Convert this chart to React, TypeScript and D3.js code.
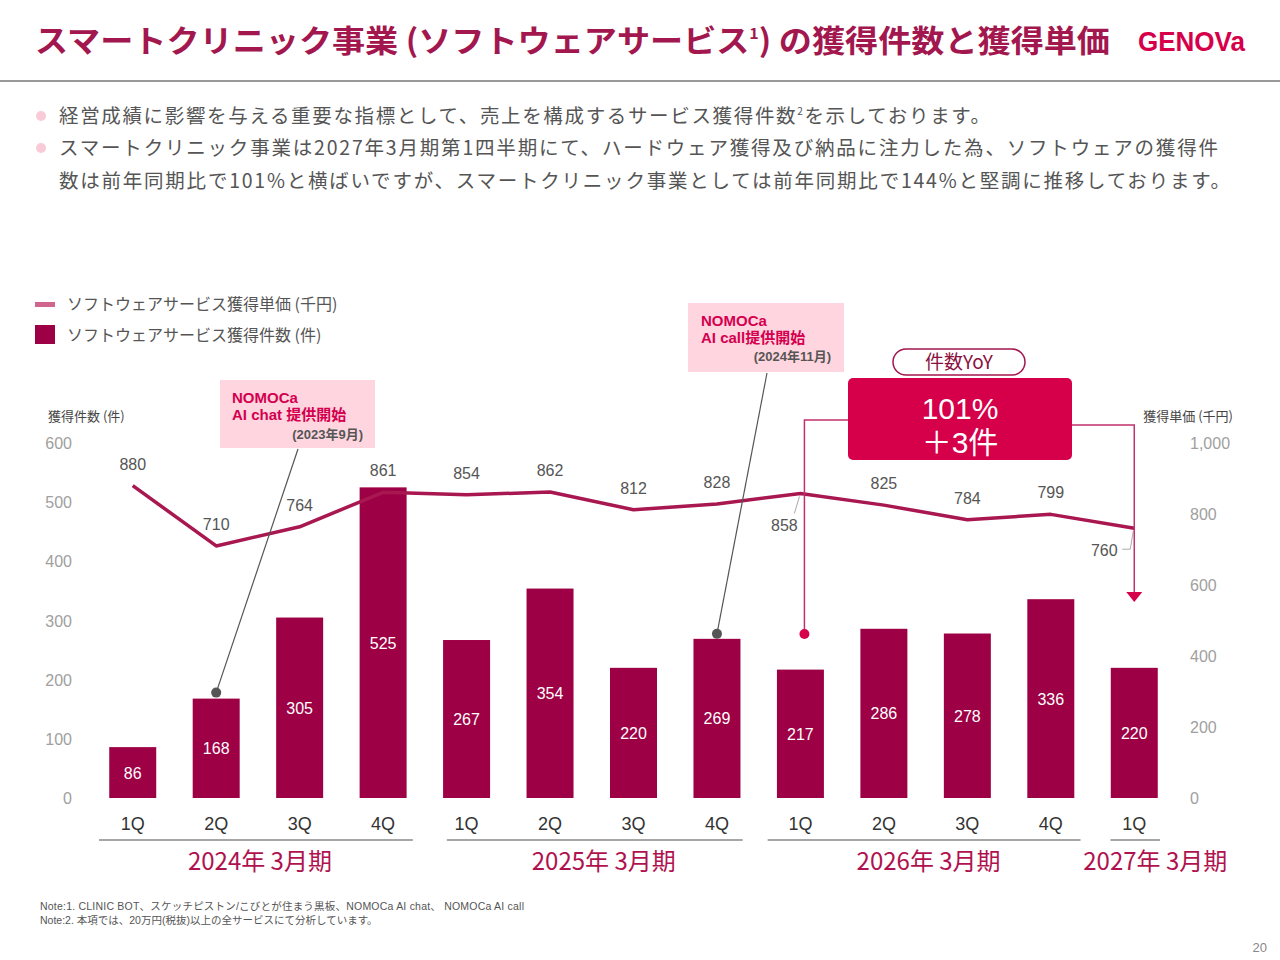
import * as d3 from "d3";

const width = 1280;
const height = 960;

// ---- data ----
const quarters = ["1Q", "2Q", "3Q", "4Q", "1Q", "2Q", "3Q", "4Q", "1Q", "2Q", "3Q", "4Q", "1Q"];
const fiscalYears = ["2024年 3月期", "2025年 3月期", "2026年 3月期", "2027年 3月期"];
const fiscalIndex = [0, 0, 0, 0, 1, 1, 1, 1, 2, 2, 2, 2, 3];
const counts = [86, 168, 305, 525, 267, 354, 220, 269, 217, 286, 278, 336, 220];
const prices = [880, 710, 764, 861, 854, 862, 812, 828, 858, 825, 784, 799, 760];
const leftTicks = [0, 100, 200, 300, 400, 500, 600];
const rightTicks = [0, 200, 400, 600, 800, 1000];

// group underline insets / label nudges (layout only)
const groupInset = [
  [8, 12],
  [22, 16],
  [9, 12],
  [18, 16],
];
const groupLabelDx = [2, 12, 3, 21];

const BAR = "#9D0044";
const LINE = "#A8174F";
const TITLE = "#A3174F";
const RED = "#D6004A";
const JP = "'Noto Sans CJK JP', sans-serif";
const NUM = "'Liberation Sans', 'Noto Sans CJK JP', sans-serif";

const x = d3
  .scaleBand<number>()
  .domain(d3.range(quarters.length))
  .range([91, 1176])
  .paddingInner(0.437)
  .paddingOuter(0.2185);
const yLeft = d3.scaleLinear().domain([0, 600]).range([798, 443]);
const yRight = d3.scaleLinear().domain([0, 1000]).range([798, 443]);
const cx = (i: number) => (x(i) as number) + x.bandwidth() / 2;

const lineGen = d3
  .line<number>()
  .x((_, i) => cx(i))
  .y((d) => yRight(d));

const App = () => {
  const groups = fiscalYears.map((label, g) => {
    const idx = fiscalIndex.map((f, i) => (f === g ? i : -1)).filter((i) => i >= 0);
    const x0 = (x(idx[0]) as number) - x.step() * 0.2185 + groupInset[g][0];
    const x1 = (x(idx[idx.length - 1]) as number) + x.bandwidth() + x.step() * 0.2185 - groupInset[g][1];
    const center = ((x(idx[0]) as number) + (x(idx[idx.length - 1]) as number) + x.bandwidth()) / 2 + groupLabelDx[g];
    return { label, x0, x1, center };
  });

  const last = quarters.length - 1;

  return (
    <svg
      width={width}
      height={height}
      style={{ position: "absolute", left: 0, top: 0, background: "#fff" }}
    >
      {/* header */}
      <text
        x={35}
        y={52}
        fontFamily={JP}
        fontWeight={700}
        fontSize={31}
        fill={TITLE}
        textLength={1075}
        lengthAdjust="spacingAndGlyphs"
      >
        スマートクリニック事業 (ソフトウェアサービス
        <tspan fontSize={15} dy={-13}>1</tspan>
        <tspan dy={13}>) の獲得件数と獲得単価</tspan>
      </text>
      <text
        x={1138}
        y={51}
        fontFamily={NUM}
        fontWeight={700}
        fontSize={28}
        fill={RED}
        textLength={107}
        lengthAdjust="spacingAndGlyphs"
      >
        GENOVa
      </text>
      <line x1={0} x2={width} y1={81} y2={81} stroke="#999" strokeWidth={2} />

      {/* bullets */}
      <circle cx={41} cy={116} r={5} fill="#F9CAD8" />
      <circle cx={41} cy={148} r={5} fill="#F9CAD8" />
      <g fontFamily={JP} fontSize={19.5} fill="#555">
        <text x={59} y={123} textLength={931} lengthAdjust="spacing">
          経営成績に影響を与える重要な指標として、売上を構成するサービス獲得件数
          <tspan fontSize={10} dy={-8}>2</tspan>
          <tspan dy={8}>を示しております。</tspan>
        </text>
        <text x={59} y={155} textLength={1159} lengthAdjust="spacing">
          スマートクリニック事業は2027年3月期第1四半期にて、ハードウェア獲得及び納品に注力した為、ソフトウェアの獲得件
        </text>
        <text x={59} y={188} textLength={1171} lengthAdjust="spacing">
          数は前年同期比で101%と横ばいですが、スマートクリニック事業としては前年同期比で144%と堅調に推移しております。
        </text>
      </g>

      {/* legend */}
      <rect x={35} y={302} width={20} height={5} fill="#D0668E" />
      <rect x={35} y={325} width={20} height={19} fill={BAR} />
      <g fontFamily={JP} fontSize={16} fill="#555">
        <text x={67} y={310}>ソフトウェアサービス獲得単価 (千円)</text>
        <text x={67} y={341}>ソフトウェアサービス獲得件数 (件)</text>
      </g>

      {/* axis titles */}
      <text x={48} y={421} fontFamily={JP} fontSize={13} fill="#444">
        獲得件数 (件)
      </text>
      <text x={1233} y={421} fontFamily={JP} fontSize={13} fill="#444" textAnchor="end">
        獲得単価 (千円)
      </text>

      {/* ticks */}
      <g fontFamily={NUM} fontSize={16} fill="#A0A0A0">
        {leftTicks.map((t) => (
          <text key={"l" + t} x={72} y={yLeft(t) + 6} textAnchor="end">
            {t}
          </text>
        ))}
        {rightTicks.map((t) => (
          <text key={"r" + t} x={1190} y={yRight(t) + 6}>
            {d3.format(",")(t)}
          </text>
        ))}
      </g>

      {/* bars */}
      {counts.map((c, i) => (
        <rect
          key={"b" + i}
          x={x(i)}
          y={yLeft(c)}
          width={x.bandwidth()}
          height={yLeft(0) - yLeft(c)}
          fill={BAR}
        />
      ))}
      <g fontFamily={NUM} fontSize={16} fill="#fff" textAnchor="middle">
        {counts.map((c, i) => (
          <text key={"bl" + i} x={cx(i)} y={(yLeft(c) + yLeft(0)) / 2 + 6}>
            {c}
          </text>
        ))}
      </g>

      {/* price line */}
      <path d={lineGen(prices) || ""} fill="none" stroke={LINE} strokeWidth={3.5} strokeLinejoin="round" />
      <g fontFamily={NUM} fontSize={16} fill="#555" textAnchor="middle">
        {prices.map((p, i) => {
          if (i === 8) {
            return (
              <g key={"pl" + i}>
                <line x1={cx(i) - 6} y1={yRight(p) + 20} x2={cx(i) - 1} y2={yRight(p) + 3} stroke="#AAA" />
                <text x={cx(i) - 16} y={yRight(p) + 38}>{p}</text>
              </g>
            );
          }
          if (i === last) {
            return (
              <g key={"pl" + i}>
                <polyline
                  points={`${cx(i) - 12},${yRight(p) + 21} ${cx(i) - 4},${yRight(p) + 21} ${cx(i) - 1},${yRight(p) + 3}`}
                  fill="none"
                  stroke="#AAA"
                />
                <text x={cx(i) - 30} y={yRight(p) + 28}>{p}</text>
              </g>
            );
          }
          return (
            <text key={"pl" + i} x={cx(i)} y={yRight(p) - 16}>
              {p}
            </text>
          );
        })}
      </g>

      {/* category axis */}
      <g fontFamily={NUM} fontSize={18} fill="#333" textAnchor="middle">
        {quarters.map((q, i) => (
          <text key={"q" + i} x={cx(i)} y={830}>
            {q}
          </text>
        ))}
      </g>
      {groups.map((g) => (
        <g key={g.label}>
          <line x1={g.x0} x2={g.x1} y1={840} y2={840} stroke="#888" strokeWidth={1.5} />
          <text x={g.center} y={870} fontFamily={JP} fontSize={24} fill="#B0124F" textAnchor="middle">
            {g.label}
          </text>
        </g>
      ))}

      {/* annotation: AI chat */}
      <rect x={220} y={380} width={155} height={68} fill="#FFD5DF" />
      <g fontFamily={NUM} fontWeight={700} fontSize={15} fill="#D4004F">
        <text x={232} y={403}>NOMOCa</text>
        <text x={232} y={420}>AI chat 提供開始</text>
      </g>
      <text x={363} y={439} fontFamily={NUM} fontWeight={700} fontSize={13} fill="#555" textAnchor="end">
        (2023年9月)
      </text>
      <line x1={298} y1={449} x2={cx(1)} y2={yLeft(counts[1]) - 6} stroke="#555" strokeWidth={1.2} />
      <circle cx={cx(1)} cy={yLeft(counts[1]) - 6} r={5} fill="#555" />

      {/* annotation: AI call */}
      <rect x={688} y={303} width={156} height={69} fill="#FFD5DF" />
      <g fontFamily={NUM} fontWeight={700} fontSize={15} fill="#D4004F">
        <text x={701} y={326}>NOMOCa</text>
        <text x={701} y={343}>AI call提供開始</text>
      </g>
      <text x={831} y={361} fontFamily={NUM} fontWeight={700} fontSize={13} fill="#555" textAnchor="end">
        (2024年11月)
      </text>
      <line x1={767} y1={373} x2={cx(7)} y2={yLeft(counts[7]) - 5} stroke="#555" strokeWidth={1.2} />
      <circle cx={cx(7)} cy={yLeft(counts[7]) - 5} r={5} fill="#555" />

      {/* YoY callout */}
      <polyline
        points={`848,420 ${cx(8) + 4},420 ${cx(8) + 4},634`}
        fill="none"
        stroke="#C2306E"
        strokeWidth={1.5}
      />
      <circle cx={cx(8) + 4} cy={634} r={5} fill={RED} />
      <polyline
        points={`1072,425 ${cx(last)},425 ${cx(last)},594`}
        fill="none"
        stroke="#C2306E"
        strokeWidth={1.5}
      />
      <path d={`M${cx(last) - 8},592 L${cx(last) + 8},592 L${cx(last)},602 Z`} fill={RED} />
      <rect x={893} y={349} width={132} height={26} rx={13} fill="#fff" stroke={TITLE} strokeWidth={1.5} />
      <text x={959} y={369} fontFamily={JP} fontSize={19} fill="#8A1040" textAnchor="middle">
        件数YoY
      </text>
      <rect x={848} y={378} width={224} height={82} rx={5} fill={RED} />
      <g fontFamily={NUM} fontSize={30} fill="#fff" textAnchor="middle">
        <text x={960} y={419}>101%</text>
        <text x={960} y={453}>＋3件</text>
      </g>

      {/* notes */}
      <g fontFamily={NUM} fontSize={10.5} fill="#555">
        <text x={40} y={910} textLength={484} lengthAdjust="spacing">
          Note:1. CLINIC BOT、スケッチピストン/こびとが住まう黒板、NOMOCa AI chat、 NOMOCa AI call
        </text>
        <text x={40} y={924}>Note:2. 本項では、20万円(税抜)以上の全サービスにて分析しています。</text>
      </g>
      <text x={1267} y={952} fontFamily={NUM} fontSize={13} fill="#888" textAnchor="end">
        20
      </text>
    </svg>
  );
};

export default App;
